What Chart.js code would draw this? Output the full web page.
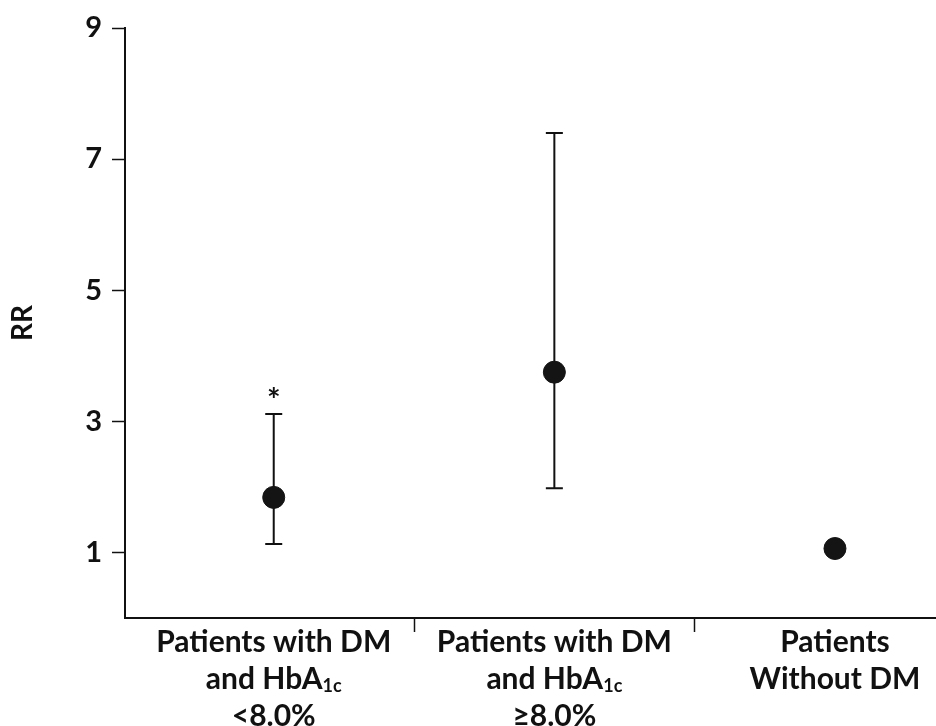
<!DOCTYPE html>
<html lang="en">
<head>
  <meta charset="UTF-8">
  <title>RR by diabetes status</title>
  <script src="https://cdn.jsdelivr.net/npm/chart.js"></script>
  <style>
    body { margin: 0; background: #fff; }
    #wrap { width: 936px; height: 726px; }
  </style>
</head>
<body>
  <div id="wrap"><canvas id="rrChart"></canvas></div>

  <script>
    // categories (label lines, _{..} = subscript)
    const categoryLines = [
      ['Patients with DM', 'and HbA_{1c}', '<8.0%'],
      ['Patients with DM', 'and HbA_{1c}', '\u22658.0%'],
      ['Patients', 'Without DM']
    ];
    const rrValues = [1.84, 3.75, 1.06];
    const ciLow = [1.13, 1.98, null];
    const ciHigh = [3.11, 7.40, null];
    const marks = ['*', '', ''];
    const yTicks = [1, 3, 5, 7, 9];
    const dividers = [0.5, 1.5];

    const FONT = 'Lato, "Open Sans", sans-serif';

    const errorBars = {
      id: 'errorBars',
      beforeDatasetsDraw(chart) {
        const ctx = chart.ctx;
        const xs = chart.scales.x, ys = chart.scales.y;
        ctx.save();
        ctx.strokeStyle = '#111';
        ctx.lineWidth = 2;
        ciLow.forEach((lo, i) => {
          if (lo == null) return;
          const x = xs.getPixelForValue(i);
          const yl = ys.getPixelForValue(lo);
          const yh = ys.getPixelForValue(ciHigh[i]);
          ctx.beginPath();
          ctx.moveTo(x, yl); ctx.lineTo(x, yh);
          ctx.moveTo(x - 8.5, yl); ctx.lineTo(x + 8.5, yl);
          ctx.moveTo(x - 8.5, yh); ctx.lineTo(x + 8.5, yh);
          ctx.stroke();
          if (marks[i]) {
            ctx.fillStyle = '#111';
            ctx.font = 'bold 32px ' + FONT;
            ctx.textAlign = 'center';
            ctx.textBaseline = 'alphabetic';
            ctx.fillText(marks[i], x, yh - 2);
          }
        });
        ctx.restore();
      }
    };

    const categoryLabels = {
      id: 'categoryLabels',
      afterDraw(chart) {
        const ctx = chart.ctx;
        const xs = chart.scales.x;
        const base = chart.chartArea.bottom;
        const mainFont = 'bold 30px ' + FONT;
        const subFont = 'bold 18px ' + FONT;
        ctx.save();
        ctx.fillStyle = '#111';
        ctx.textBaseline = 'alphabetic';
        ctx.textAlign = 'left';
        categoryLines.forEach((lines, i) => {
          const cx = xs.getPixelForValue(i);
          lines.forEach((line, j) => {
            const parts = line.split(/_\{(.*?)\}/);
            let width = 0;
            parts.forEach((p, k) => {
              ctx.font = k % 2 ? subFont : mainFont;
              width += ctx.measureText(p).width;
            });
            let x = cx - width / 2;
            const y = base + 34 + j * 37;
            parts.forEach((p, k) => {
              ctx.font = k % 2 ? subFont : mainFont;
              ctx.fillText(p, x, k % 2 ? y + 3 : y);
              x += ctx.measureText(p).width;
            });
          });
        });
        ctx.restore();
      }
    };

    const ctx = document.getElementById('rrChart').getContext('2d');
    const rrChart = new Chart(ctx, {
      type: 'scatter',
      data: {
        datasets: [{
          data: rrValues.map((v, i) => ({ x: i, y: v })),
          backgroundColor: '#141414',
          borderColor: '#141414',
          pointRadius: 11,
          pointHoverRadius: 11
        }]
      },
      options: {
        responsive: true,
        maintainAspectRatio: false,
        animation: false,
        layout: { autoPadding: false, padding: { top: 28, right: 0, bottom: 0, left: 0 } },
        plugins: { legend: { display: false }, tooltip: { enabled: false } },
        scales: {
          x: {
            type: 'linear',
            min: -0.53,
            max: 2.36,
            afterBuildTicks: (scale) => { scale.ticks = dividers.map(v => ({ value: v })); },
            afterFit: (scale) => { scale.height = 108; },
            ticks: { callback: () => '', padding: 0 },
            grid: { drawOnChartArea: false, drawTicks: true, tickLength: 14, tickColor: '#111', tickWidth: 1.5 },
            border: { display: true, color: '#111', width: 2 }
          },
          y: {
            min: 0,
            max: 9,
            afterBuildTicks: (scale) => { scale.ticks = yTicks.map(v => ({ value: v })); },
            afterFit: (scale) => { scale.width = 125; },
            ticks: { color: '#111', padding: 10, font: { family: FONT, size: 29, weight: 'bold' } },
            grid: { drawOnChartArea: false, drawTicks: true, tickLength: 13, tickColor: '#111', tickWidth: 1.5 },
            border: { display: true, color: '#111', width: 2 },
            title: { display: true, text: 'RR', color: '#111', padding: { top: 6, bottom: 0 }, font: { family: FONT, size: 28, weight: 'bold' } }
          }
        }
      },
      plugins: [errorBars, categoryLabels]
    });
  </script>
</body>
</html>
